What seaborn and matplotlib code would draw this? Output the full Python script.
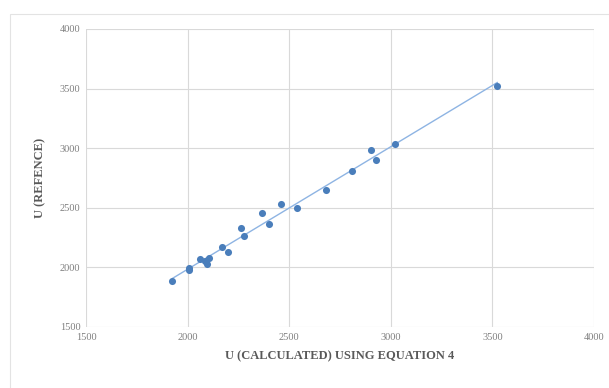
import numpy as np
import pandas as pd
import matplotlib
matplotlib.use("Agg")
import matplotlib.pyplot as plt
import seaborn as sns
from matplotlib.patches import Rectangle

# Data
u_calculated = [1925, 2006, 2008, 2063, 2088, 2097, 2107, 2168, 2198, 2263, 2279,
                2366, 2403, 2458, 2538, 2683, 2809, 2905, 2927, 3023, 3525]
u_reference = [1886, 1998, 1976, 2068, 2054, 2026, 2082, 2172, 2133, 2334, 2264,
               2457, 2368, 2536, 2502, 2653, 2805, 2984, 2905, 3034, 3524]
x_ticks = [1500, 2000, 2500, 3000, 3500, 4000]
y_ticks = [1500, 2000, 2500, 3000, 3500, 4000]
x_label = "U (CALCULATED) USING EQUATION 4"
y_label = "U (REFENCE)"

df = pd.DataFrame({"calc": u_calculated, "ref": u_reference})

sns.set_theme(style="white")
plt.rcParams["font.family"] = ["Liberation Serif", "DejaVu Serif"]

fig = plt.figure(figsize=(6.09, 3.88), dpi=100)
fig.patches.append(Rectangle((10 / 609, -0.05), 1.2, 1 - 14 / 388 + 0.05,
                             transform=fig.transFigure, fill=False,
                             edgecolor="#E3E3E3", linewidth=0.8))
ax = fig.add_axes([86 / 609, 1 - 327 / 388, 508 / 609, 298 / 388])

# Linear trendline
coef = np.polyfit(df["calc"], df["ref"], 1)
xs = np.array([df["calc"].min(), df["calc"].max()])
ax.plot(xs, np.polyval(coef, xs), color="#8EB4E3", linewidth=1.0, zorder=2)

sns.scatterplot(data=df, x="calc", y="ref", ax=ax, color="#4A7EBB",
                s=26, edgecolor="#4A7EBB", linewidth=0, zorder=3)

ax.set_xlim(1500, 4000)
ax.set_ylim(1500, 4000)
ax.set_xticks(x_ticks)
ax.set_yticks(y_ticks)
ax.tick_params(axis="both", labelsize=7.5, colors="#7F7F7F", length=0, pad=4)
ax.grid(True, color="#D9D9D9", linewidth=0.8)
for s in ax.spines.values():
    s.set_visible(False)
ax.set_axisbelow(True)

ax.set_xlabel(x_label, fontsize=9, fontweight="bold", color="#595959", labelpad=6)
ax.set_ylabel(y_label, fontsize=9, fontweight="bold", color="#595959", labelpad=10)

fig.savefig("out.png", dpi=100)
